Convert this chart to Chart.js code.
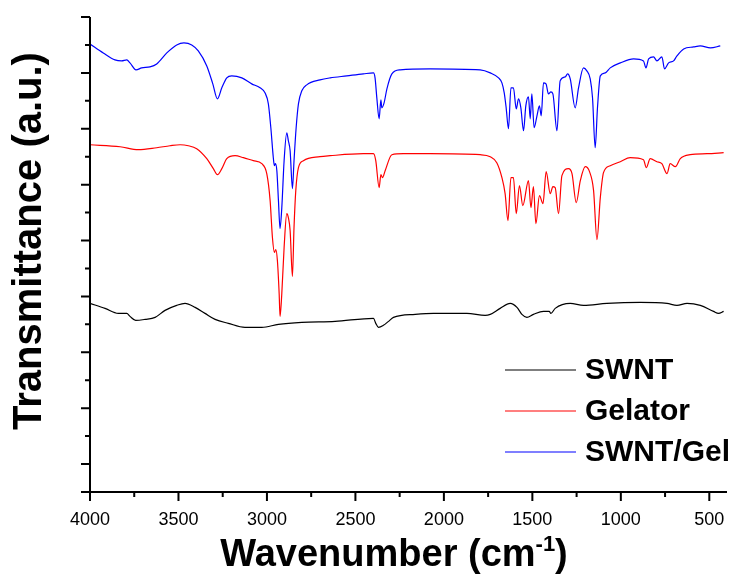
<!DOCTYPE html>
<html>
<head>
<meta charset="utf-8">
<script src="https://cdn.jsdelivr.net/npm/chart.js@4.4.1/dist/chart.umd.min.js"></script>
<style>
  html, body { margin: 0; padding: 0; background: #fff; }
  #wrap { width: 739px; height: 581px; }
</style>
</head>
<body>
<div id="wrap"><canvas id="ftir" width="739" height="581"></canvas></div>
<script>
// Wavenumbers (cm-1) and transmittance (a.u.)
const swntWn = [4000, 3915, 3840, 3792, 3774, 3742, 3689, 3632, 3576, 3510, 3463, 3406, 3350, 3293, 3218, 3124, 3029, 2935, 2803, 2615, 2398, 2385, 2370, 2342, 2313, 2285, 2162, 2059, 1870, 1767, 1738, 1682, 1625, 1587, 1559, 1531, 1494, 1437, 1405, 1395, 1371, 1286, 1211, 1079, 890, 739, 683, 626, 551, 476, 448, 419];
const swntT  = [189, 184, 179, 179, 176, 172, 173, 175, 182, 187, 189, 185, 179, 173, 169, 165, 165, 168, 170, 171, 174, 169, 165, 167, 171, 175, 178, 179, 179, 177, 178, 184, 189, 185, 178, 175, 178, 181, 181, 179, 184, 189, 187, 189, 190, 189, 187, 189, 187, 181, 179, 181];

const gelWn = [4000, 3830, 3727, 3623, 3548, 3491, 3444, 3397, 3340, 3303, 3280, 3255, 3227, 3180, 3133, 3077, 3029, 3001, 2982, 2969, 2958, 2950, 2941, 2931, 2926, 2916, 2903, 2888, 2879, 2869, 2856, 2847, 2837, 2822, 2794, 2700, 2643, 2455, 2398, 2385, 2366, 2356, 2347, 2332, 2294, 2229, 2078, 1795, 1738, 1701, 1672, 1654, 1638, 1621, 1607, 1591, 1573, 1554, 1522, 1508, 1494, 1480, 1460, 1440, 1422, 1399, 1384, 1371, 1352, 1333, 1296, 1276, 1252, 1229, 1201, 1177, 1154, 1135, 1116, 1098, 1060, 1003, 947, 872, 856, 834, 796, 768, 739, 721, 692, 664, 608, 513, 419];
const gelT  = [348, 346, 343, 345, 347, 348, 347, 344, 334, 324, 318, 324, 334, 337, 335, 332, 329, 319, 292, 255, 240, 243, 232, 199, 176, 199, 245, 279, 275, 262, 216, 265, 302, 325, 332, 336, 337, 339, 339, 332, 305, 318, 315, 322, 338, 339, 339, 338, 336, 330, 315, 299, 272, 315, 315, 279, 307, 287, 312, 285, 306, 269, 297, 289, 321, 299, 306, 305, 279, 317, 324, 319, 290, 312, 326, 321, 302, 253, 295, 320, 327, 331, 335, 333, 325, 334, 331, 329, 319, 329, 326, 334, 338, 339, 340];

const hybWn = [4000, 3925, 3859, 3821, 3792, 3774, 3740, 3708, 3661, 3623, 3566, 3510, 3469, 3425, 3388, 3340, 3306, 3280, 3255, 3227, 3199, 3142, 3086, 3039, 3011, 2992, 2978, 2964, 2958, 2952, 2944, 2935, 2926, 2916, 2903, 2888, 2879, 2869, 2856, 2847, 2835, 2822, 2803, 2775, 2700, 2643, 2549, 2455, 2398, 2389, 2379, 2366, 2356, 2351, 2338, 2322, 2294, 2247, 2078, 1795, 1738, 1691, 1672, 1659, 1648, 1635, 1621, 1607, 1591, 1578, 1565, 1550, 1537, 1522, 1512, 1503, 1490, 1474, 1460, 1450, 1437, 1423, 1409, 1395, 1384, 1361, 1343, 1314, 1301, 1286, 1258, 1239, 1211, 1192, 1173, 1160, 1145, 1132, 1116, 1088, 1060, 1003, 928, 872, 858, 843, 815, 796, 768, 753, 730, 702, 683, 645, 589, 551, 494, 438];
const hybT  = [449, 440, 433, 432, 433, 430, 423, 425, 426, 429, 440, 448, 450, 448, 442, 427, 409, 394, 405, 415, 417, 415, 409, 405, 400, 389, 365, 335, 327, 329, 322, 292, 264, 285, 332, 360, 352, 342, 304, 332, 365, 389, 402, 408, 413, 415, 417, 419, 420, 415, 395, 374, 393, 385, 390, 404, 419, 423, 424, 423, 420, 415, 410, 400, 385, 364, 405, 405, 384, 394, 385, 362, 387, 396, 374, 399, 365, 377, 387, 377, 410, 409, 399, 401, 399, 362, 412, 416, 419, 414, 385, 405, 425, 422, 414, 395, 345, 385, 417, 420, 425, 430, 434, 432, 425, 434, 436, 432, 436, 424, 430, 432, 437, 444, 446, 447, 445, 447];

const seriesNames = ['SWNT', 'Gelator', 'SWNT/Gel'];
const seriesColors = ['#000000', '#ff0000', '#0000ff'];
const xTickLabels = [4000, 3500, 3000, 2500, 2000, 1500, 1000, 500];

function toPoints(wn, t) {
    return wn.map((w, i) => ({ x: w, y: t[i] }));
}

// axes, ticks, titles and legend drawn by hand
const frame = {
    id: 'frame',
    afterDraw(chart) {
        const ctx = chart.ctx;
        const xs = chart.scales.x;
        const ys = chart.scales.y;
        const a = chart.chartArea;
        ctx.save();
        ctx.strokeStyle = '#000';
        ctx.lineWidth = 2;
        ctx.beginPath();
        ctx.moveTo(a.left, a.top);
        ctx.lineTo(a.left, a.bottom);
        ctx.moveTo(a.left - 3, a.bottom);
        ctx.lineTo(a.right, a.bottom);
        xs.ticks.forEach(t => {
            const px = xs.getPixelForValue(t.value);
            const len = t.value % 500 === 0 ? 9 : 5;
            ctx.moveTo(px, a.bottom);
            ctx.lineTo(px, a.bottom + len);
        });
        ys.ticks.forEach(t => {
            const py = ys.getPixelForValue(t.value);
            const k = Math.round(t.value / 28);
            const len = (k % 2 === 1 || k === 0) ? 9 : 5;
            ctx.moveTo(a.left - len, py);
            ctx.lineTo(a.left, py);
        });
        ctx.stroke();

        // y title
        ctx.fillStyle = '#000';
        ctx.font = 'bold 40px "Liberation Sans", Arial, sans-serif';
        ctx.textAlign = 'center';
        ctx.textBaseline = 'middle';
        ctx.save();
        ctx.translate(30, 241);
        ctx.rotate(-Math.PI / 2);
        ctx.fillText('Transmittance (a.u.)', 0, 0);
        ctx.restore();

        // x title with superscript
        const big = 'bold 38px "Liberation Sans", Arial, sans-serif';
        const small = 'bold 22px "Liberation Sans", Arial, sans-serif';
        ctx.textAlign = 'left';
        ctx.textBaseline = 'alphabetic';
        ctx.font = big;
        const w1 = ctx.measureText('Wavenumber (cm').width;
        const w3 = ctx.measureText(')').width;
        ctx.font = small;
        const w2 = ctx.measureText('-1').width;
        let x0 = 394 - (w1 + w2 + w3) / 2;
        const base = 566;
        ctx.font = big;
        ctx.fillText('Wavenumber (cm', x0, base);
        ctx.font = small;
        ctx.fillText('-1', x0 + w1, base - 15);
        ctx.font = big;
        ctx.fillText(')', x0 + w1 + w2, base);

        // legend
        ctx.font = 'bold 30px "Liberation Sans", Arial, sans-serif';
        ctx.textBaseline = 'middle';
        seriesNames.forEach((name, i) => {
            const y = 370 + 41 * i;
            ctx.strokeStyle = seriesColors[i];
            ctx.lineWidth = 1.2;
            ctx.beginPath();
            ctx.moveTo(505, y);
            ctx.lineTo(576, y);
            ctx.stroke();
            ctx.fillStyle = '#000';
            ctx.fillText(name, 585, y + 1);
        });
        ctx.restore();
    }
};

new Chart(document.getElementById('ftir'), {
    type: 'line',
    data: {
        datasets: [
            { label: seriesNames[0], data: toPoints(swntWn, swntT), borderColor: seriesColors[0] },
            { label: seriesNames[1], data: toPoints(gelWn, gelT), borderColor: seriesColors[1] },
            { label: seriesNames[2], data: toPoints(hybWn, hybT), borderColor: seriesColors[2] }
        ]
    },
    options: {
        responsive: false,
        animation: false,
        parsing: false,
        layout: { padding: { top: 17, right: 12, left: 0, bottom: 0 } },
        elements: {
            line: { borderWidth: 1.2, cubicInterpolationMode: 'monotone', fill: false },
            point: { radius: 0 }
        },
        plugins: { legend: { display: false }, tooltip: { enabled: false } },
        scales: {
            x: {
                type: 'linear',
                reverse: true,
                min: 400,
                max: 4000,
                grid: { display: false },
                border: { display: false },
                afterBuildTicks: s => { s.ticks = s.ticks.filter(t => t.value % 250 === 0); },
                afterFit: s => { s.height = 89; },
                ticks: {
                    stepSize: 250,
                    includeBounds: false,
                    autoSkip: false,
                    maxRotation: 0,
                    padding: 9,
                    color: '#000',
                    font: { family: '"Liberation Sans", Arial, sans-serif', size: 18 },
                    callback: v => xTickLabels.includes(v) ? String(v) : ''
                }
            },
            y: {
                type: 'linear',
                min: 0,
                max: 476,
                grid: { display: false },
                border: { display: false },
                afterFit: s => { s.width = 90; },
                ticks: { stepSize: 28, display: false }
            }
        }
    },
    plugins: [frame]
});
</script>
</body>
</html>
